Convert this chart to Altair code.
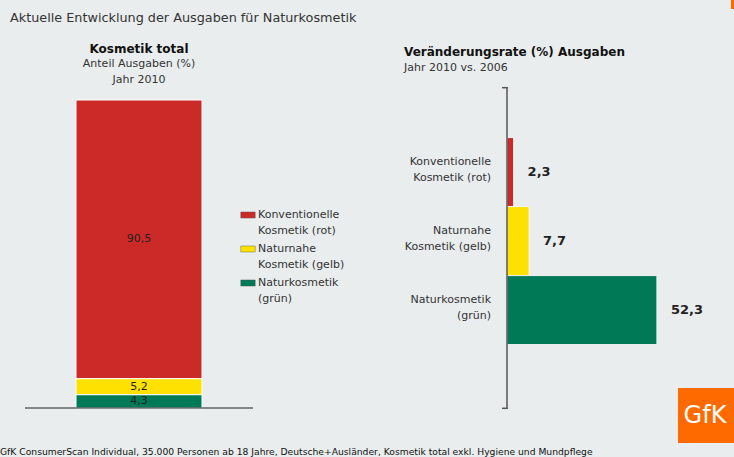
import altair as alt
import pandas as pd

FONT = "DejaVu Sans"

# ---- data ----
categories = ["Konventionelle Kosmetik (rot)", "Naturnahe Kosmetik (gelb)", "Naturkosmetik (grün)"]
share_2010 = [90.5, 5.2, 4.3]            # Anteil Ausgaben (%) Jahr 2010
change_2010_vs_2006 = [2.3, 7.7, 52.3]   # Veränderungsrate (%) 2010 vs. 2006
colors = ["#cc2929", "#ffe100", "#007a56"]
stack_order = [3, 2, 1]                  # red on top, green at bottom

df = pd.DataFrame({
    "cat": categories,
    "share": share_2010,
    "change": change_2010_vs_2006,
    "order": stack_order,
    "panel": ["Kosmetik total"] * 3,
})
df["share_txt"] = [f"{v:.1f}".replace(".", ",") for v in share_2010]
df["change_txt"] = [f"{v:.1f}".replace(".", ",") for v in change_2010_vs_2006]

color_scale = alt.Scale(domain=categories, range=colors)
two_lines = "[substring(datum.cat, 0, indexof(datum.cat, ' ')), substring(datum.cat, indexof(datum.cat, ' ') + 1)]"

# ---- left: stacked bar ----
left_y = alt.Scale(domain=[0, 100], range=[408, 100], nice=False, zero=True)
left_x = alt.Scale(type="band", domain=["Kosmetik total"], range=[76, 202],
                   paddingInner=0, paddingOuter=0)

left_bar = alt.Chart(df).mark_bar(stroke="white", strokeWidth=1).encode(
    x=alt.X("panel:N", scale=left_x, axis=None),
    y=alt.Y("share:Q", stack="zero", scale=left_y, axis=None),
    color=alt.Color("cat:N", scale=color_scale, legend=None),
    order=alt.Order("order:Q"),
)

left_text = alt.Chart(df).transform_stack(
    stack="share", as_=["y0", "y1"], groupby=["panel"],
    sort=[alt.SortField("order", order="ascending")]
).transform_calculate(
    mid="(datum.y0 + datum.y1) / 2"
).mark_text(font=FONT, fontSize=11, color="#222", baseline="middle").encode(
    x=alt.X("panel:N", scale=left_x, axis=None),
    y=alt.Y("mid:Q", scale=left_y, axis=None),
    text="share_txt:N",
)

baseline = alt.Chart(pd.DataFrame({"v": [0]})).mark_rule(color="#222", strokeWidth=1).encode(
    y=alt.Y("v:Q", scale=left_y, axis=None),
    x=alt.value(25), x2=alt.value(253),
)

left_layer = alt.layer(left_bar, left_text, baseline)

# ---- legend (left) ----
leg_y = alt.Scale(type="point", domain=categories, range=[215, 283], padding=0)
leg_sym = alt.Chart(df).mark_point(
    shape="M-1,-0.42H1V0.42H-1Z", filled=True, size=210, opacity=1,
    stroke="#555", strokeWidth=0.4
).encode(
    x=alt.value(248),
    y=alt.Y("cat:N", scale=leg_y, axis=None),
    color=alt.Color("cat:N", scale=color_scale, legend=None),
)
leg_txt = alt.Chart(df).transform_calculate(
    lab=two_lines
).mark_text(font=FONT, fontSize=11, color="#333", align="left", baseline="middle",
            lineHeight=16).encode(
    x=alt.value(258),
    y=alt.Y("cat:N", scale=leg_y, axis=None),
    text="lab:N",
)
legend_layer = alt.layer(leg_sym, leg_txt)

# ---- right: horizontal bars ----
right_y = alt.Scale(type="band", domain=categories, range=[87, 409],
                    paddingInner=0, paddingOuter=0.833, align=0.44)
right_x = alt.Scale(domain=[0, 60], range=[507, 679], nice=False, zero=True)

right_bar = alt.Chart(df).mark_bar(stroke="#f4f4f4", strokeWidth=1).encode(
    x=alt.X("change:Q", scale=right_x, axis=None),
    y=alt.Y("cat:N", scale=right_y, axis=None),
    color=alt.Color("cat:N", scale=color_scale, legend=None),
)
right_text = alt.Chart(df).mark_text(
    font=FONT, fontSize=13, fontWeight="bold", color="#222",
    align="left", baseline="middle", dx=14
).encode(
    x=alt.X("change:Q", scale=right_x, axis=None),
    y=alt.Y("cat:N", scale=right_y, axis=None),
    text="change_txt:N",
)
right_labels = alt.Chart(df).transform_calculate(
    lab=two_lines
).mark_text(
    font=FONT, fontSize=11, color="#333", align="right", baseline="middle",
    lineHeight=16, dx=-16, dy=-10
).encode(
    x=alt.X(datum=0, scale=right_x, axis=None),
    y=alt.Y("cat:N", scale=right_y, axis=None),
    text="lab:N",
)
axis_line = alt.Chart(pd.DataFrame({"v": [0]})).mark_rule(color="#555", strokeWidth=1.5).encode(
    x=alt.X("v:Q", scale=right_x, axis=None),
    y=alt.value(87), y2=alt.value(409),
)
right_layer = alt.layer(right_bar, axis_line, right_text, right_labels)

# ---- decorations / annotations ----
anno = pd.DataFrame({"a": [0]})

def txt(text, x, y, size, weight="normal", align="left", color="#333"):
    return alt.Chart(anno).mark_text(
        text=text, align=align, baseline="middle", fontSize=size,
        fontWeight=weight, font=FONT, color=color
    ).encode(x=alt.value(x), y=alt.value(y))

def rule(x, x2, y, color="#555", w=1.5):
    return alt.Chart(anno).mark_rule(color=color, strokeWidth=w).encode(
        x=alt.value(x), x2=alt.value(x2), y=alt.value(y))

def rect(x, x2, y, y2, color):
    return alt.Chart(anno).mark_rect(color=color).encode(
        x=alt.value(x), x2=alt.value(x2), y=alt.value(y), y2=alt.value(y2))

annotations = [
    txt("Aktuelle Entwicklung der Ausgaben für Naturkosmetik", 10, 18, 12.8, color="#333"),
    txt("Kosmetik total", 139, 49, 12, weight="bold", align="center", color="#111"),
    txt("Anteil Ausgaben (%)", 139, 64, 11, align="center"),
    txt("Jahr 2010", 139, 80, 11, align="center"),
    txt("Veränderungsrate (%) Ausgaben", 404, 52, 12, weight="bold", color="#111"),
    txt("Jahr 2010 vs. 2006", 404, 68, 11),
    rule(502, 507.7, 87.7),
    rule(502, 507.7, 408.3),
    rect(678, 734, 388, 443, "#ff6a00"),
    rect(731, 734, 0, 9, "#ff6a00"),
    txt("GfK", 705, 416, 24, align="center", color="white"),
    txt("GfK ConsumerScan Individual, 35.000 Personen ab 18 Jahre, Deutsche+Ausländer, Kosmetik total exkl. Hygiene und Mundpflege",
        0, 452, 9.2, color="#111"),
]

chart = alt.layer(
    left_layer, legend_layer, right_layer, *annotations
).resolve_scale(
    x="independent", y="independent", color="independent"
).properties(
    width=734, height=457, background="#e9eded",
    autosize=alt.AutoSizeParams(type="none"), padding=0,
).configure_view(stroke=None)

chart.save("out.html", embed_options={"renderer": "svg", "actions": False})
